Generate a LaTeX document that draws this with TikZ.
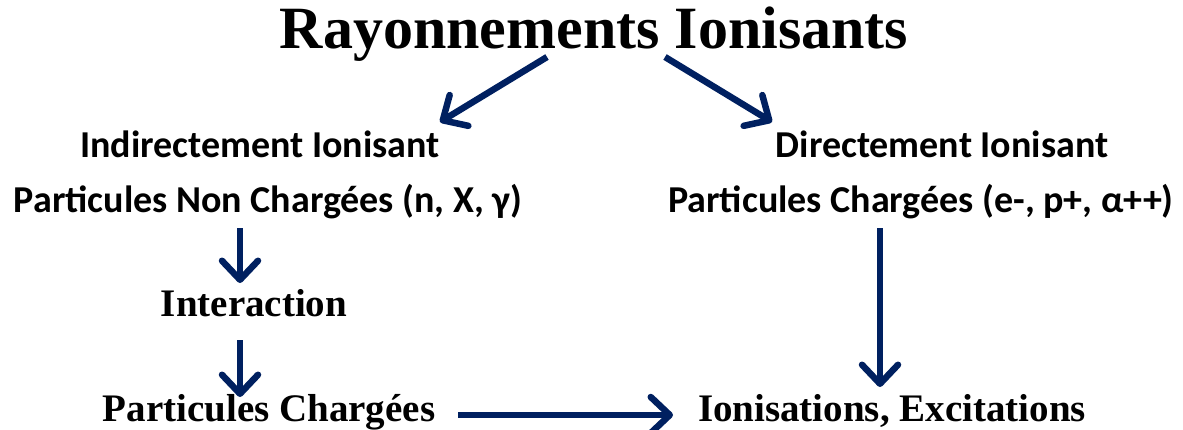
\documentclass[tikz,border=0pt]{standalone}
\usepackage{fontspec}
\setmainfont{Liberation Serif}
\newfontfamily\calib{Carlito}
\usetikzlibrary{arrows.meta}
\definecolor{navy}{HTML}{002060}

\begin{document}
\begin{tikzpicture}[x=1pt,y=-1pt,
		serif/.style={font=\fontsize{39}{39}\selectfont\bfseries,inner sep=0pt,anchor=base},
		sans/.style={font=\fontsize{38}{38}\calib\bfseries,inner sep=0pt,anchor=base},
		arr/.style={draw=navy,line width=6.5pt,-{Straight Barb[length=19pt,width=36pt,round]}}]
	\useasboundingbox (0,0) rectangle (1183,429);
  		\node[serif,font=\fontsize{60}{60}\selectfont\bfseries] (title) at (594,48) {Rayonnements Ionisants};
  		\node[sans] (indir) at (260,157) {Indirectement Ionisant};
  		\node[sans] (neutre) at (268,212) {Particules Non Chargées (n, X, γ)};
  		\node[sans] (dir) at (942,157) {Directement Ionisant};
  		\node[sans] (charge) at (921,212) {Particules Chargées (e-, p+, α++)};
  		\node[serif] (inter) at (254,316) {Interaction};
  		\node[serif] (second) at (269,421) {Particules Chargées};
  		\node[serif] (ionis) at (892,421) {Ionisations, Excitations};
  		% fleches
  		\draw[arr] ([xshift=-47pt,yshift=-9pt]title.base) -- ([xshift=180pt,yshift=35pt]indir.base);
  		\draw[arr] ([xshift=71pt,yshift=-9pt]title.base) -- ([xshift=-170pt,yshift=35pt]dir.base);
  		\draw[arr] ([xshift=-28pt,yshift=-16pt]neutre.base) -- ([xshift=-14pt,yshift=33pt]inter.base);
  		\draw[arr] ([xshift=-14pt,yshift=-24pt]inter.base) -- ([xshift=-29pt,yshift=24pt]second.base);
  		\draw[arr] ([xshift=-41pt,yshift=-16pt]charge.base) -- ([xshift=-12pt,yshift=34pt]ionis.base);
  		\draw[arr] ([xshift=189pt,yshift=6pt]second.base) -- ([xshift=-219pt,yshift=6pt]ionis.base);
\end{tikzpicture}
\end{document}
